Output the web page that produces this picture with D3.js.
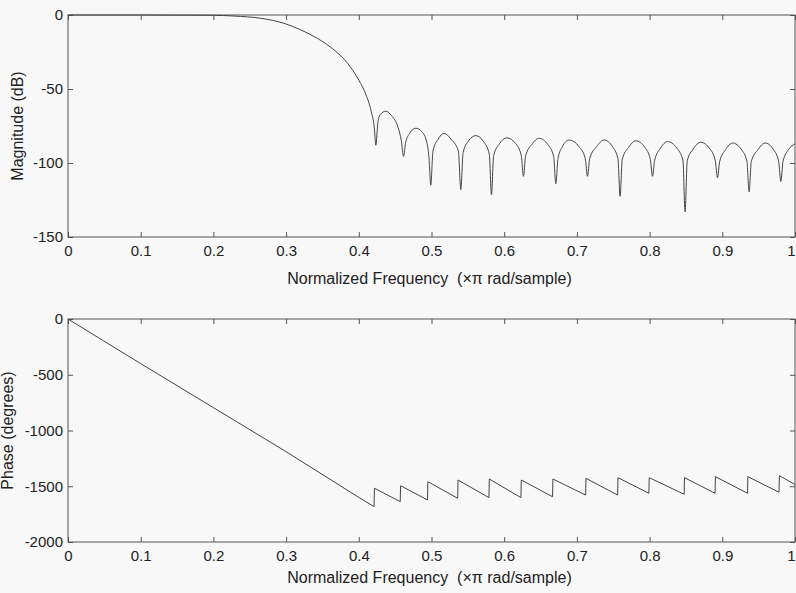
<!DOCTYPE html>
<html>
<head>
<meta charset="utf-8">
<script src="https://cdnjs.cloudflare.com/ajax/libs/d3/7.8.5/d3.min.js"></script>
<style>
  body { margin: 0; background: #f8f8f8; }
  svg { display: block; }
  text { font-family: "Liberation Sans", Arial, sans-serif; fill: #222; }
</style>
</head>
<body>
<div id="chart"></div>
<script>
// x axis ticks (normalized frequency, x pi rad/sample)
var freqTicks = [0, 0.1, 0.2, 0.3, 0.4, 0.5, 0.6, 0.7, 0.8, 0.9, 1];
var freqLabels = ["0", "0.1", "0.2", "0.3", "0.4", "0.5", "0.6", "0.7", "0.8", "0.9", "1"];

// magnitude response
var magFreq = [
  0, 0.1, 0.2, 0.228, 0.265, 0.297, 0.320, 0.343, 0.366, 0.3845, 0.400, 0.410, 0.417, 0.4215,
  0.4234, 0.4264, 0.4300, 0.4371, 0.4450, 0.4540, 0.4585,
  0.4615, 0.4645, 0.4700, 0.4784, 0.4870, 0.4935, 0.4965,
  0.4990, 0.5020, 0.5090, 0.5173, 0.5270, 0.5370,
  0.5403, 0.5435, 0.5510, 0.5609, 0.5715, 0.5795,
  0.5825, 0.5855, 0.5935, 0.6036, 0.6160, 0.6235,
  0.6265, 0.6295, 0.6380, 0.6480, 0.6600, 0.6680,
  0.6710, 0.6740, 0.6800, 0.6893, 0.7030, 0.7115,
  0.7146, 0.7176, 0.7270, 0.7374, 0.7490, 0.7564,
  0.7594, 0.7624, 0.7710, 0.7810, 0.7935, 0.8010,
  0.8040, 0.8070, 0.8150, 0.8246, 0.8375, 0.8458,
  0.8488, 0.8518, 0.8600, 0.8704, 0.8830, 0.8904,
  0.8934, 0.8964, 0.9045, 0.9140, 0.9265, 0.9339,
  0.9369, 0.9399, 0.9490, 0.9589, 0.9705, 0.9775,
  0.9805, 0.9835, 0.9910, 1.0
];
var magDb = [
  0, 0, -0.2, -0.7, -2.2, -5.6, -10, -15.8, -23.6, -32.6, -44, -54, -65, -77,
  -88, -72, -67, -65, -68, -76, -85,
  -95.5, -86, -80, -76.5, -79, -86, -96,
  -115, -92, -84, -80, -84, -92,
  -118, -93, -85, -81.5, -85.5, -94,
  -121.5, -95, -87, -83, -87, -95,
  -109, -95, -87.5, -83.3, -87.5, -95.5,
  -114, -97, -89, -84.5, -89, -97,
  -109, -97, -89, -84.5, -89, -97,
  -122.5, -97.5, -89.5, -85, -89.5, -97.5,
  -109, -98, -90, -85.5, -90, -98,
  -133, -98.5, -90.5, -86, -90.5, -98.5,
  -110, -99, -91, -86.5, -91, -99,
  -119.5, -99, -91, -86.5, -91, -99,
  -112.5, -99, -91, -87
];

// phase response (degrees)
var phaseFreq = [0, 0.1, 0.2, 0.3, 0.4, 0.421, 0.4215, 0.457, 0.4575, 0.4945, 0.495,
  0.536, 0.5365, 0.579, 0.5795, 0.623, 0.6235, 0.6665, 0.667, 0.712, 0.7125,
  0.756, 0.7565, 0.799, 0.7995, 0.8475, 0.848, 0.890, 0.8905, 0.9347, 0.9352,
  0.978, 0.9785, 1.0];
var phaseDeg = [0, -400, -795, -1190, -1600, -1683, -1518, -1638, -1495, -1623, -1459,
  -1608, -1444, -1602, -1435, -1602, -1444, -1594, -1435, -1579, -1429,
  -1579, -1423, -1563, -1423, -1572, -1423, -1563, -1414, -1563, -1414,
  -1554, -1405, -1485];

var magTicks = [-150, -100, -50, 0];
var phaseTicks = [-2000, -1500, -1000, -500, 0];

var width = 796, height = 593;
var left = 68, right = 795;

var svg = d3.select("#chart").append("svg")
  .attr("width", width)
  .attr("height", height);

var x = d3.scaleLinear().domain([0, 1]).range([left, right]);

var panels = [
  { top: 15, bottom: 237, domain: [-150, 0], ticks: magTicks, ylabel: "Magnitude (dB)",
    ylabelX: 23, xlabelY: 284, xs: magFreq, ys: magDb, curve: d3.curveMonotoneX },
  { top: 319, bottom: 542, domain: [-2000, 0], ticks: phaseTicks, ylabel: "Phase (degrees)",
    ylabelX: 13, xlabelY: 583, xs: phaseFreq, ys: phaseDeg, curve: d3.curveLinear }
];

panels.forEach(function(p) {
  var y = d3.scaleLinear().domain(p.domain).range([p.bottom, p.top]);
  var g = svg.append("g");

  // bottom axis with labels, ticks pointing in
  g.append("g")
    .attr("class", "axis")
    .attr("transform", "translate(0," + p.bottom + ")")
    .call(d3.axisBottom(x).tickValues(freqTicks)
      .tickFormat(function(d, i) { return freqLabels[i]; })
      .tickSizeInner(-5).tickSizeOuter(0).tickPadding(8));
  // top axis, ticks only
  g.append("g")
    .attr("class", "axis")
    .attr("transform", "translate(0," + p.top + ")")
    .call(d3.axisTop(x).tickValues(freqTicks).tickFormat("")
      .tickSizeInner(-5).tickSizeOuter(0));
  // left axis
  g.append("g")
    .attr("class", "axis")
    .attr("transform", "translate(" + left + ",0)")
    .call(d3.axisLeft(y).tickValues(p.ticks).tickFormat(function(d) { return String(d); })
      .tickSizeInner(-5).tickSizeOuter(0).tickPadding(5));
  // right axis, ticks only
  g.append("g")
    .attr("class", "axis")
    .attr("transform", "translate(" + right + ",0)")
    .call(d3.axisRight(y).tickValues(p.ticks).tickFormat("")
      .tickSizeInner(-5).tickSizeOuter(0));

  g.selectAll(".axis .domain").remove();
  g.selectAll(".axis line").attr("stroke", "#555");
  g.selectAll(".axis text").style("font-size", "15px").attr("fill", "#222");
  // the "1" sits on the right edge of the window, keep it inside
  g.selectAll(".axis .tick text").filter(function(d) { return d === 1; })
    .attr("text-anchor", "end");

  // frame
  g.append("rect")
    .attr("x", left).attr("y", p.top)
    .attr("width", right - left).attr("height", p.bottom - p.top)
    .attr("fill", "none")
    .attr("stroke", "#555")
    .attr("stroke-width", 1);

  // response curve
  var pts = p.xs.map(function(f, i) { return [f, p.ys[i]]; });
  var line = d3.line()
    .x(function(d) { return x(d[0]); })
    .y(function(d) { return y(d[1]); })
    .curve(p.curve);
  g.append("path")
    .datum(pts)
    .attr("d", line)
    .attr("fill", "none")
    .attr("stroke", "#444")
    .attr("stroke-width", 1);

  // axis labels
  g.append("text")
    .attr("x", (left + right) / 2 - 2)
    .attr("y", p.xlabelY)
    .attr("text-anchor", "middle")
    .style("font-size", "16px")
    .style("white-space", "pre")
    .text("Normalized Frequency  (\u00d7\u03c0 rad/sample)");
  g.append("text")
    .attr("transform", "translate(" + p.ylabelX + "," + (p.top + p.bottom) / 2 + ") rotate(-90)")
    .attr("text-anchor", "middle")
    .style("font-size", "16px")
    .text(p.ylabel);
});
</script>
</body>
</html>
